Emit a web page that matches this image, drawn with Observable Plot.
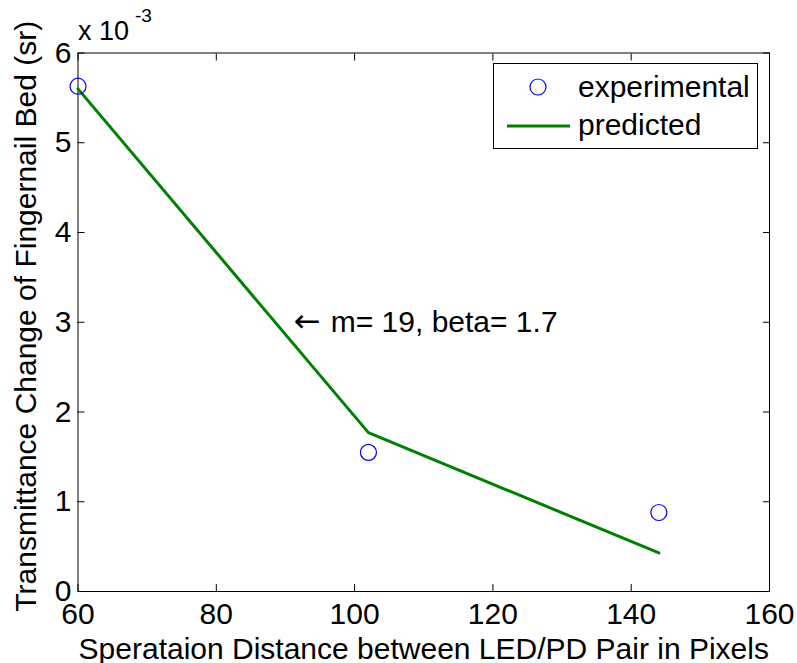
<!DOCTYPE html>
<html><head><meta charset="utf-8">
<script src="https://cdn.jsdelivr.net/npm/d3@7"></script>
<script src="https://cdn.jsdelivr.net/npm/@observablehq/plot@0.6"></script>
<style>
body{margin:0;background:#fff;}
#wrap{position:relative;width:797px;height:663px;font-family:"Liberation Sans",Arial,Helvetica,sans-serif;}
#wrap svg{display:block;}
.ov{position:absolute;overflow:visible;}
</style></head>
<body><div id="wrap"></div>
<script>
// Data (y values in units of 10^-3 sr)
const xTicks = [60, 80, 100, 120, 140, 160];
const yTicks = [0, 1, 2, 3, 4, 5, 6];
const expX = [60, 102, 144];
const expY = [5.63, 1.55, 0.88];
const predX = [60, 102, 144];
const predY = [5.60, 1.77, 0.43];
const annX = [91.2];
const annY = [3.0];
const annArrow = ["\u2190"];
const annText = ["m= 19, beta= 1.7"];
const xLabel = "Sperataion Distance between LED/PD Pair in Pixels";
const yLabel = "Transmittance Change of Fingernail Bed (sr)";
const seriesNames = ["experimental", "predicted"];

const expData = expX.map((x, i) => ({x, y: expY[i]}));
const predData = predX.map((x, i) => ({x, y: predY[i]}));
const annData = annX.map((x, i) => ({x, y: annY[i], a: annArrow[i], t: annText[i]}));

const font = '"Liberation Sans",Arial,Helvetica,sans-serif';
const plot = Plot.plot({
  width: 797, height: 663,
  marginLeft: 77.5, marginRight: 28, marginTop: 52.5, marginBottom: 72,
  style: {fontFamily: font, fontSize: "30px", background: "white", color: "black"},
  x: {domain: [60, 160], label: null},
  y: {domain: [0, 6], label: null},
  marks: [
    Plot.axisX(xTicks, {anchor: "bottom", tickSize: -7, tickPadding: 17.7, label: null, fontSize: 30, tickFormat: d3.format("d")}),
    Plot.axisX(xTicks, {anchor: "top", tickSize: -7, tickFormat: () => "", label: null}),
    Plot.axisY(yTicks, {anchor: "left", tickSize: -7, tickPadding: 13.5, label: null, fontSize: 30, tickFormat: d3.format("d")}),
    Plot.axisY(yTicks, {anchor: "right", tickSize: -7, tickFormat: () => "", label: null}),
    Plot.frame({stroke: "black", strokeWidth: 1}),
    Plot.line(predData, {x: "x", y: "y", stroke: "#008000", strokeWidth: 3}),
    Plot.dot(expData, {x: "x", y: "y", r: 8, stroke: "#0000ff", strokeWidth: 1.2, fill: "none"}),
    Plot.text(annData, {x: "x", y: "y", text: "a", textAnchor: "start", fontSize: 32, fontFamily: "DejaVu Sans", dy: -1}),
    Plot.text(annData, {x: "x", y: "y", text: "t", textAnchor: "start", fontSize: 30, dx: 37}),
    Plot.text([xLabel], {frameAnchor: "bottom", text: d => d, dy: 67, lineAnchor: "bottom", textAnchor: "middle", fontSize: 30}),
    Plot.text([yLabel], {frameAnchor: "left", text: d => d, rotate: -90, dx: -52, dy: -6, lineAnchor: "middle", textAnchor: "middle", fontSize: 30})
  ]
});
const wrap = document.getElementById("wrap");
wrap.appendChild(plot);

const NS = "http://www.w3.org/2000/svg";
// exponent label
const ex = document.createElementNS(NS, "svg");
ex.setAttribute("class", "ov");
ex.setAttribute("width", "160"); ex.setAttribute("height", "50");
ex.style.left = "0px"; ex.style.top = "0px";
ex.innerHTML = `<text x="78" y="40" font-family='${font}' font-size="27">x 10</text>
<text x="135" y="22" font-family='${font}' font-size="19">-3</text>`;
wrap.appendChild(ex);

// legend
const lg = document.createElementNS(NS, "svg");
lg.setAttribute("class", "ov");
lg.setAttribute("width", "266"); lg.setAttribute("height", "87");
lg.style.left = "493px"; lg.style.top = "63px";
lg.innerHTML = `<rect x="0.5" y="0.5" width="264" height="85" fill="white" stroke="black" stroke-width="1"/>
<circle cx="45" cy="24" r="8" fill="none" stroke="#0000ff" stroke-width="1.2"/>
<line x1="14" x2="77" y1="63" y2="63" stroke="#008000" stroke-width="3"/>
<text x="85" y="34" font-family='${font}' font-size="30">${seriesNames[0]}</text>
<text x="85" y="72" font-family='${font}' font-size="30">${seriesNames[1]}</text>`;
wrap.appendChild(lg);
</script>
</body></html>
